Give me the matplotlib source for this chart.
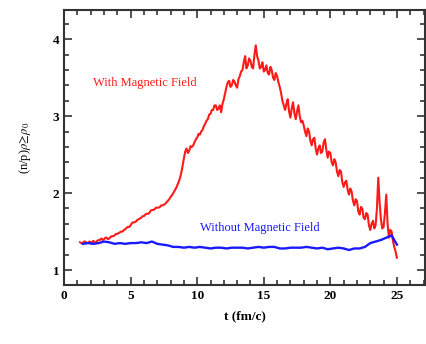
import numpy as np
import matplotlib
matplotlib.use("Agg")
import matplotlib.pyplot as plt
from matplotlib.ticker import MultipleLocator

# red curve: with magnetic field, read every 0.1 fm/c starting at 1.2
ratio_red = [
    1.36, 1.35, 1.35, 1.37, 1.37, 1.35, 1.35, 1.37, 1.36, 1.36,
    1.38, 1.36, 1.36, 1.38, 1.39, 1.39, 1.41, 1.39, 1.40, 1.42,
    1.42, 1.40, 1.41, 1.43, 1.44, 1.44, 1.45, 1.47, 1.47, 1.48,
    1.49, 1.50, 1.50, 1.52, 1.53, 1.55, 1.56, 1.56, 1.58, 1.61,
    1.62, 1.62, 1.63, 1.65, 1.66, 1.67, 1.68, 1.70, 1.70, 1.72,
    1.73, 1.73, 1.74, 1.77, 1.78, 1.78, 1.79, 1.81, 1.81, 1.81,
    1.82, 1.84, 1.84, 1.85, 1.86, 1.88, 1.90, 1.92, 1.95, 1.97,
    2.00, 2.03, 2.06, 2.10, 2.14, 2.19, 2.26, 2.35, 2.45, 2.54,
    2.58, 2.52, 2.55, 2.61, 2.60, 2.62, 2.66, 2.70, 2.72, 2.77,
    2.76, 2.80, 2.82, 2.87, 2.90, 2.94, 2.96, 3.02, 3.03, 3.08,
    3.08, 3.14, 3.14, 3.08, 3.10, 3.14, 3.05, 3.16, 3.22, 3.30,
    3.38, 3.44, 3.46, 3.38, 3.40, 3.47, 3.45, 3.40, 3.37, 3.48,
    3.52, 3.58, 3.60, 3.70, 3.78, 3.62, 3.66, 3.75, 3.72, 3.64,
    3.62, 3.80, 3.92, 3.78, 3.72, 3.62, 3.64, 3.70, 3.58, 3.60,
    3.66, 3.56, 3.54, 3.64, 3.60, 3.50, 3.47, 3.56, 3.52, 3.44,
    3.38, 3.30, 3.20, 3.14, 3.08, 3.16, 3.22, 3.06, 2.98, 3.10,
    3.18, 3.04, 2.96, 3.06, 3.14, 3.00, 2.92, 2.94, 2.88, 2.80,
    2.74, 2.84, 2.80, 2.68, 2.62, 2.70, 2.72, 2.58, 2.50, 2.58,
    2.62, 2.52, 2.54, 2.66, 2.70, 2.56, 2.46, 2.54, 2.52, 2.40,
    2.36, 2.44, 2.40, 2.28, 2.22, 2.30, 2.28, 2.14, 2.08, 2.14,
    2.16, 2.04, 1.98, 2.06, 2.02, 1.90, 1.84, 1.92, 1.90, 1.76,
    1.72, 1.82, 1.80, 1.68, 1.66, 1.74, 1.72, 1.58, 1.52, 1.60,
    1.64, 1.54, 1.58, 1.80, 2.20, 1.88, 1.66, 1.54, 1.56, 1.74,
    1.98, 1.60, 1.42, 1.52, 1.50, 1.38, 1.30, 1.24, 1.16,
]
t_red = np.round(1.2 + 0.1 * np.arange(len(ratio_red)), 2)

# blue curve: without magnetic field, read every 0.4 fm/c starting at 1.4
ratio_blue = [
    1.34, 1.35, 1.34, 1.35, 1.37, 1.36, 1.34, 1.35, 1.34, 1.35,
    1.35, 1.36, 1.35, 1.37, 1.34, 1.33, 1.32, 1.30, 1.30, 1.29,
    1.30, 1.29, 1.30, 1.29, 1.28, 1.29, 1.29, 1.28, 1.29, 1.29,
    1.29, 1.28, 1.29, 1.30, 1.29, 1.30, 1.30, 1.28, 1.28, 1.29,
    1.29, 1.29, 1.30, 1.29, 1.28, 1.29, 1.27, 1.28, 1.29, 1.28,
    1.26, 1.28, 1.28, 1.30, 1.35, 1.37, 1.39, 1.42, 1.45, 1.33,
]
t_blue = np.round(1.4 + 0.4 * np.arange(len(ratio_blue)), 2)

plt.rcParams['font.family'] = ['Liberation Serif', 'DejaVu Serif']
plt.rcParams['mathtext.fontset'] = 'stix'

fig = plt.figure(figsize=(4.27, 3.44), dpi=100)
ax = fig.add_axes([0.150, 0.1715, 0.845, 0.7995])

ax.plot(t_red, ratio_red, color='#ff1a1a', lw=1.5)
ax.plot(t_blue, ratio_blue, color='#1a1aff', lw=1.7)

ax.text(2.2, 3.43, 'With Magnetic Field', color='#ff1a1a', fontsize=9,
        va='center', ha='left')
ax.text(14.7, 1.54, 'Without Magnetic Field', color='#1a1aff', fontsize=9,
        va='center', ha='center')

ax.set_xlim(0, 27.1)
ax.set_ylim(0.805, 4.38)
ax.xaxis.set_major_locator(MultipleLocator(5))
ax.xaxis.set_minor_locator(MultipleLocator(1))
ax.yaxis.set_major_locator(MultipleLocator(1))
ax.yaxis.set_minor_locator(MultipleLocator(0.2))
ax.tick_params(which='both', direction='in', top=True, right=True,
               color='#333333', width=1.2, labelsize=9.5)
ax.tick_params(which='major', length=6)
ax.tick_params(which='minor', length=3.5)
for lab in ax.get_xticklabels() + ax.get_yticklabels():
    lab.set_fontweight('bold')
for sp in ax.spines.values():
    sp.set_linewidth(1.5)
    sp.set_color('#333333')

ax.set_xlabel('t (fm/c)', fontsize=9.5, fontweight='bold', labelpad=6)
ax.set_ylabel(r'(n/p)$\rho\!\geq\!\rho_0$', fontsize=9, labelpad=14)

fig.savefig('out.png', dpi=100)
